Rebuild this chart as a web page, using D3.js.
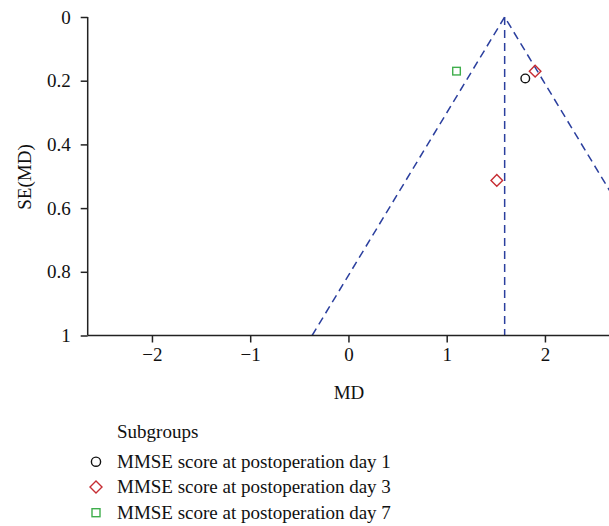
<!DOCTYPE html>
<html>
<head>
<meta charset="utf-8">
<script src="https://cdn.jsdelivr.net/npm/d3@7"></script>
<style>
  body { margin: 0; background: #fff; }
  text { font-family: "Liberation Serif", "DejaVu Serif", serif; fill: #111; }
</style>
</head>
<body>
<svg id="chart" width="609" height="526"></svg>
<script>
// studies, one array per subgroup
var groups = ["MMSE score at postoperation day 1", "MMSE score at postoperation day 3", "MMSE score at postoperation day 7"];
var day1MD = [1.80], day1SE = [0.193];
var day3MD = [1.90, 1.51], day3SE = [0.17, 0.513];
var day7MD = [1.10], day7SE = [0.17];
var pooledMD = 1.59;
var xTicks = [-2, -1, 0, 1, 2];
var yTicks = [0, 0.2, 0.4, 0.6, 0.8, 1];

var svg = d3.select("#chart");
var width = 609, height = 526;

var x = d3.scaleLinear().domain([-2.654, 2.652]).range([87.7, 609]);
var y = d3.scaleLinear().domain([0, 1]).range([17, 335.5]);

// clip for funnel lines
svg.append("clipPath").attr("id", "plotclip")
  .append("rect").attr("x", 87.7).attr("y", 0).attr("width", 609 - 87.7).attr("height", 336);

var blue = "#2b3f9e";
var funnel = svg.append("g").attr("clip-path", "url(#plotclip)");
var line = d3.line().x(function(d){ return x(d[0]); }).y(function(d){ return y(d[1]); });

funnel.append("path")
  .attr("d", line([[pooledMD - 1.96, 1], [pooledMD, 0], [pooledMD + 1.96, 1]]))
  .attr("fill", "none").attr("stroke", blue).attr("stroke-width", 1.5)
  .attr("stroke-dasharray", "8,5");
funnel.append("path")
  .attr("d", line([[pooledMD, 0], [pooledMD, 1]]))
  .attr("fill", "none").attr("stroke", blue).attr("stroke-width", 1.5)
  .attr("stroke-dasharray", "8,5");

// axes
var xAxis = svg.append("g").attr("transform", "translate(0," + y(1) + ")")
  .call(d3.axisBottom(x).tickValues(xTicks).tickSize(7).tickPadding(5)
    .tickFormat(function(d){ return d < 0 ? "\u2212" + Math.abs(d) : d; }));
var yAxis = svg.append("g").attr("transform", "translate(" + x.range()[0] + ",0)")
  .call(d3.axisLeft(y).tickValues(yTicks).tickSize(7).tickPadding(10)
    .tickFormat(function(d){ return d; }));

[xAxis, yAxis].forEach(function(a){
  a.attr("font-size", null).attr("font-family", null);
  a.select(".domain").attr("stroke", "#222").attr("stroke-width", 1.5);
  a.selectAll(".tick line").attr("stroke", "#222").attr("stroke-width", 1.5);
  a.selectAll(".tick text").style("font-size", "19px")
    .style("font-family", "Liberation Serif, serif").attr("fill", "#111");
});
xAxis.select(".domain").attr("d", "M" + x.range()[0] + ",0H" + width);
yAxis.select(".domain").attr("d", "M0," + y(0) + "V" + y(1));

svg.append("text").attr("x", 349).attr("y", 399).attr("text-anchor", "middle")
  .style("font-size", "19px").text("MD");
svg.append("text").attr("transform", "translate(31,177) rotate(-90)")
  .attr("text-anchor", "middle").style("font-size", "19px").text("SE(MD)");

// markers
var red = "#c62d33", green = "#3fae4c";
var pts = svg.append("g");
day1MD.forEach(function(m, i){
  pts.append("circle").attr("cx", x(m)).attr("cy", y(day1SE[i])).attr("r", 4.3)
    .attr("fill", "none").attr("stroke", "#111").attr("stroke-width", 1.4);
});
day3MD.forEach(function(m, i){
  pts.append("path").attr("d", "M0,-5.8L5.8,0L0,5.8L-5.8,0Z")
    .attr("transform", "translate(" + x(m) + "," + y(day3SE[i]) + ")")
    .attr("fill", "none").attr("stroke", red).attr("stroke-width", 1.4);
});
day7MD.forEach(function(m, i){
  pts.append("rect").attr("x", x(m) - 3.8).attr("y", y(day7SE[i]) - 3.8)
    .attr("width", 7.6).attr("height", 7.6)
    .attr("fill", "none").attr("stroke", green).attr("stroke-width", 1.4);
});

// legend
var leg = svg.append("g");
leg.append("text").attr("x", 117).attr("y", 438).style("font-size", "19px").text("Subgroups");
var rowY = [461.7, 487, 512.7];
groups.forEach(function(g, i){
  var cy = rowY[i];
  if (i === 0) {
    leg.append("circle").attr("cx", 96).attr("cy", cy).attr("r", 4.6)
      .attr("fill", "none").attr("stroke", "#111").attr("stroke-width", 1.4);
  } else if (i === 1) {
    leg.append("path").attr("d", "M0,-6L6,0L0,6L-6,0Z").attr("transform", "translate(96," + cy + ")")
      .attr("fill", "none").attr("stroke", red).attr("stroke-width", 1.4);
  } else {
    leg.append("rect").attr("x", 96 - 4).attr("y", cy - 4).attr("width", 8).attr("height", 8)
      .attr("fill", "none").attr("stroke", green).attr("stroke-width", 1.4);
  }
  leg.append("text").attr("x", 117).attr("y", cy + 6).style("font-size", "19px").text(g);
});
</script>
</body>
</html>
